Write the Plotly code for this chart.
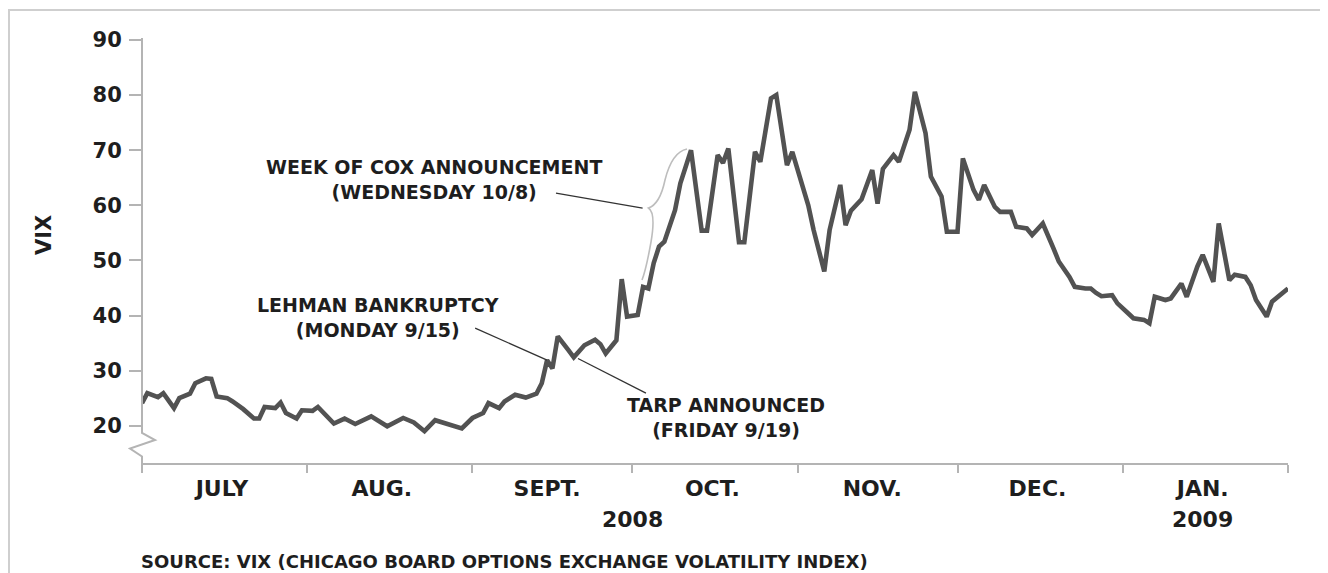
import plotly.graph_objects as go

# ---------------- data ----------------
dates = [
    "2008-07-01", "2008-07-02", "2008-07-04", "2008-07-05", "2008-07-07", "2008-07-08",
    "2008-07-10", "2008-07-11", "2008-07-13", "2008-07-14", "2008-07-15", "2008-07-17",
    "2008-07-18", "2008-07-20", "2008-07-22", "2008-07-23", "2008-07-24", "2008-07-26",
    "2008-07-27", "2008-07-28", "2008-07-30", "2008-07-31", "2008-08-02", "2008-08-03",
    "2008-08-06", "2008-08-08", "2008-08-10", "2008-08-13", "2008-08-16", "2008-08-19",
    "2008-08-21", "2008-08-23", "2008-08-25", "2008-08-27", "2008-08-30", "2008-09-01",
    "2008-09-03", "2008-09-04", "2008-09-06", "2008-09-07", "2008-09-09", "2008-09-11",
    "2008-09-13", "2008-09-14", "2008-09-15", "2008-09-16", "2008-09-17", "2008-09-19",
    "2008-09-20", "2008-09-22", "2008-09-24", "2008-09-25", "2008-09-26", "2008-09-28",
    "2008-09-29", "2008-09-30", "2008-10-02", "2008-10-03", "2008-10-04", "2008-10-05",
    "2008-10-06", "2008-10-07", "2008-10-08", "2008-10-09", "2008-10-10", "2008-10-12",
    "2008-10-14", "2008-10-15", "2008-10-17", "2008-10-18", "2008-10-19", "2008-10-21",
    "2008-10-22", "2008-10-24", "2008-10-25", "2008-10-27", "2008-10-28", "2008-10-30",
    "2008-10-31", "2008-11-02", "2008-11-03", "2008-11-04", "2008-11-06", "2008-11-07",
    "2008-11-09", "2008-11-10", "2008-11-11", "2008-11-13", "2008-11-15", "2008-11-16",
    "2008-11-17", "2008-11-19", "2008-11-20", "2008-11-22", "2008-11-23", "2008-11-25",
    "2008-11-26", "2008-11-28", "2008-11-29", "2008-12-01", "2008-12-02", "2008-12-04",
    "2008-12-05", "2008-12-06", "2008-12-08", "2008-12-09", "2008-12-11", "2008-12-12",
    "2008-12-14", "2008-12-15", "2008-12-17", "2008-12-19", "2008-12-20", "2008-12-22",
    "2008-12-23", "2008-12-25", "2008-12-26", "2008-12-27", "2008-12-28", "2008-12-30",
    "2008-12-31", "2009-01-02", "2009-01-03", "2009-01-05", "2009-01-06", "2009-01-07",
    "2009-01-09", "2009-01-10", "2009-01-12", "2009-01-13", "2009-01-15", "2009-01-16",
    "2009-01-18", "2009-01-19", "2009-01-21", "2009-01-22", "2009-01-24", "2009-01-25",
    "2009-01-26", "2009-01-28", "2009-01-29", "2009-02-01",
]
vix = [
    24.1, 25.9, 25.2, 25.9, 23.2, 25.0,
    25.8, 27.7, 28.6, 28.5, 25.3, 25.0,
    24.4, 23.0, 21.3, 21.3, 23.4, 23.2,
    24.2, 22.3, 21.3, 22.8, 22.7, 23.4,
    20.4, 21.3, 20.3, 21.7, 19.9, 21.4,
    20.6, 19.0, 21.0, 20.4, 19.5, 21.4,
    22.3, 24.1, 23.2, 24.4, 25.6, 25.1,
    25.8, 27.7, 31.9, 30.4, 36.2, 33.7,
    32.4, 34.6, 35.6, 34.8, 33.1, 35.5,
    46.6, 39.8, 40.1, 45.2, 44.9, 49.5,
    52.5, 53.4, 56.1, 59.1, 64.0, 70.0,
    55.4, 55.4, 69.1, 67.7, 70.3, 53.3,
    53.3, 69.7, 67.9, 79.4, 80.0, 67.3,
    69.7, 63.2, 60.0, 55.5, 48.0, 55.5,
    63.7, 56.4, 59.0, 61.1, 66.4, 60.3,
    66.6, 69.1, 67.9, 73.7, 80.6, 73.1,
    65.2, 61.6, 55.2, 55.2, 68.5, 62.8,
    61.0, 63.7, 59.7, 58.8, 58.8, 56.1,
    55.8, 54.6, 56.7, 52.2, 49.8, 47.0,
    45.2, 44.9, 44.9, 44.1, 43.5, 43.7,
    42.2, 40.4, 39.5, 39.2, 38.6, 43.4,
    42.8, 43.1, 45.8, 43.4, 48.9, 51.0,
    46.1, 56.7, 46.4, 47.4, 47.0, 45.5,
    42.8, 39.8, 42.5, 44.9,
]
month_label_dates = ["2008-07-16", "2008-08-15", "2008-09-15", "2008-10-16",
                     "2008-11-15", "2008-12-16", "2009-01-16"]
month_labels = ["JULY", "AUG.", "SEPT.", "OCT.", "NOV.", "DEC.", "JAN."]
year_label_dates = ["2008-10-01", "2009-01-16"]
year_labels = ["2008", "2009"]
y_ticks = [20, 30, 40, 50, 60, 70, 80, 90]

# ---------------- layout helpers ----------------
# the page body has an 8 px margin, so the figure starts 8 px in from the window edge
OFF = 8
W, H = 1328 - OFF, 573 - OFF
LEFT, RIGHT, TOP, BOTTOM = 142, 1288, 40, 463   # plot box in window pixels
ML, MT = LEFT - OFF, TOP - OFF
MR, MB = W - (RIGHT - OFF), H - (BOTTOM - OFF)
PW, PH = RIGHT - LEFT, BOTTOM - TOP


def PX(x):
    return (x - LEFT) / PW


def PY(y):
    return (BOTTOM - y) / PH


FONT = "DejaVu Sans"
INK = "#1e1e1e"
AXIS = "#b4b4b4"

fig = go.Figure()
fig.add_trace(go.Scatter(
    x=dates, y=vix, mode="lines",
    line=dict(color="#525252", width=4.6),
    showlegend=False, hoverinfo="x+y",
))

fig.update_layout(
    width=W, height=H,
    margin=dict(l=ML, r=MR, t=MT, b=MB),
    paper_bgcolor="white", plot_bgcolor="white",
    font=dict(family=FONT, color=INK),
    xaxis=dict(
        type="date",
        range=["2008-07-01", "2009-02-01"],
        tickmode="array", tickvals=month_label_dates, ticktext=month_labels,
        ticks="", ticklabelstandoff=5,
        tickfont=dict(family=FONT, size=22, color=INK, weight="bold"),
        showline=True, linecolor=AXIS, linewidth=2,
        showgrid=False, zeroline=False,
        minor=dict(ticks="outside", ticklen=8, tickwidth=1.5, tickcolor=AXIS,
                   dtick="M1", tick0="2008-07-01", showgrid=False),
    ),
    yaxis=dict(
        range=[90 - PH / 5.51, 90],
        tickmode="array", tickvals=y_ticks,
        ticks="outside", ticklen=12, tickwidth=1.5, tickcolor=AXIS,
        ticklabelstandoff=3,
        tickfont=dict(family=FONT, size=21, color=INK, weight="bold"),
        showline=False, showgrid=False, zeroline=False,
    ),
)

shapes = []
# outer frame
shapes.append(dict(type="rect", xref="paper", yref="paper",
                   x0=PX(9), x1=PX(1323), y0=PY(600), y1=PY(10),
                   line=dict(color="#cfcfcf", width=2), layer="below"))
# y-axis line with break
shapes.append(dict(type="path", xref="paper", yref="paper",
                   path=(f"M{PX(142)},{PY(38)} L{PX(142)},{PY(433)} "
                         f"L{PX(155)},{PY(440)} L{PX(130)},{PY(448.5)} "
                         f"L{PX(142)},{PY(456.5)} L{PX(142)},{PY(471.5)}"),
                   line=dict(color=AXIS, width=2)))
# brace for the Cox week
shapes.append(dict(type="path", xref="paper", yref="paper",
                   path=(f"M{PX(687)},{PY(149)} Q{PX(672)},{PY(152)} {PX(665)},{PY(180)} "
                         f"Q{PX(660)},{PY(204)} {PX(648.5)},{PY(208)} "
                         f"Q{PX(656)},{PY(213)} {PX(651)},{PY(242)} "
                         f"Q{PX(646)},{PY(270)} {PX(642)},{PY(280)}"),
                   line=dict(color="#bdbdbd", width=1.6)))
# connector lines (data coordinates)
lehman_i = dates.index("2008-09-15")
shapes.append(dict(type="line", xref="x", yref="y",
                   x0="2008-09-01 12:00", y0=37.7,
                   x1=dates[lehman_i], y1=vix[lehman_i],
                   line=dict(color="#333333", width=1.3)))
shapes.append(dict(type="line", xref="x", yref="y",
                   x0="2008-09-20 19:00", y0=32.2,
                   x1="2008-10-03 13:00", y1=25.9,
                   line=dict(color="#333333", width=1.3)))
shapes.append(dict(type="line", xref="x", yref="y",
                   x0="2008-09-16 16:00", y0=62.2,
                   x1="2008-10-02 22:00", y1=59.5,
                   line=dict(color="#333333", width=1.3)))
fig.update_layout(shapes=shapes)

ann_font = dict(family=FONT, size=19, color=INK, weight="bold")
notes = [
    ("WEEK OF COX ANNOUNCEMENT<br>(WEDNESDAY 10/8)", 434, 179),
    ("LEHMAN BANKRUPTCY<br>(MONDAY 9/15)", 378, 317),
    ("TARP ANNOUNCED<br>(FRIDAY 9/19)", 726, 417),
]
for txt, x, y in notes:
    fig.add_annotation(text=txt, xref="paper", yref="paper", x=PX(x), y=PY(y),
                       xanchor="center", yanchor="middle", align="center",
                       showarrow=False, font=ann_font)

for d, t in zip(year_label_dates, year_labels):
    fig.add_annotation(text=t, xref="x", yref="paper", x=d, y=PY(519.5),
                       xanchor="center", yanchor="middle", showarrow=False,
                       font=dict(family=FONT, size=22, color=INK, weight="bold"))

fig.add_annotation(text="VIX", xref="paper", yref="paper", x=PX(44), y=PY(235),
                   xanchor="center", yanchor="middle", showarrow=False, textangle=-90,
                   font=dict(family=FONT, size=21, color=INK, weight="bold"))

fig.add_annotation(text="SOURCE: VIX (CHICAGO BOARD OPTIONS EXCHANGE VOLATILITY INDEX)",
                   xref="paper", yref="paper", x=PX(139), y=PY(561),
                   xanchor="left", yanchor="middle", showarrow=False,
                   font=dict(family=FONT, size=18, color=INK, weight="bold"))

fig.write_html("out.html")
